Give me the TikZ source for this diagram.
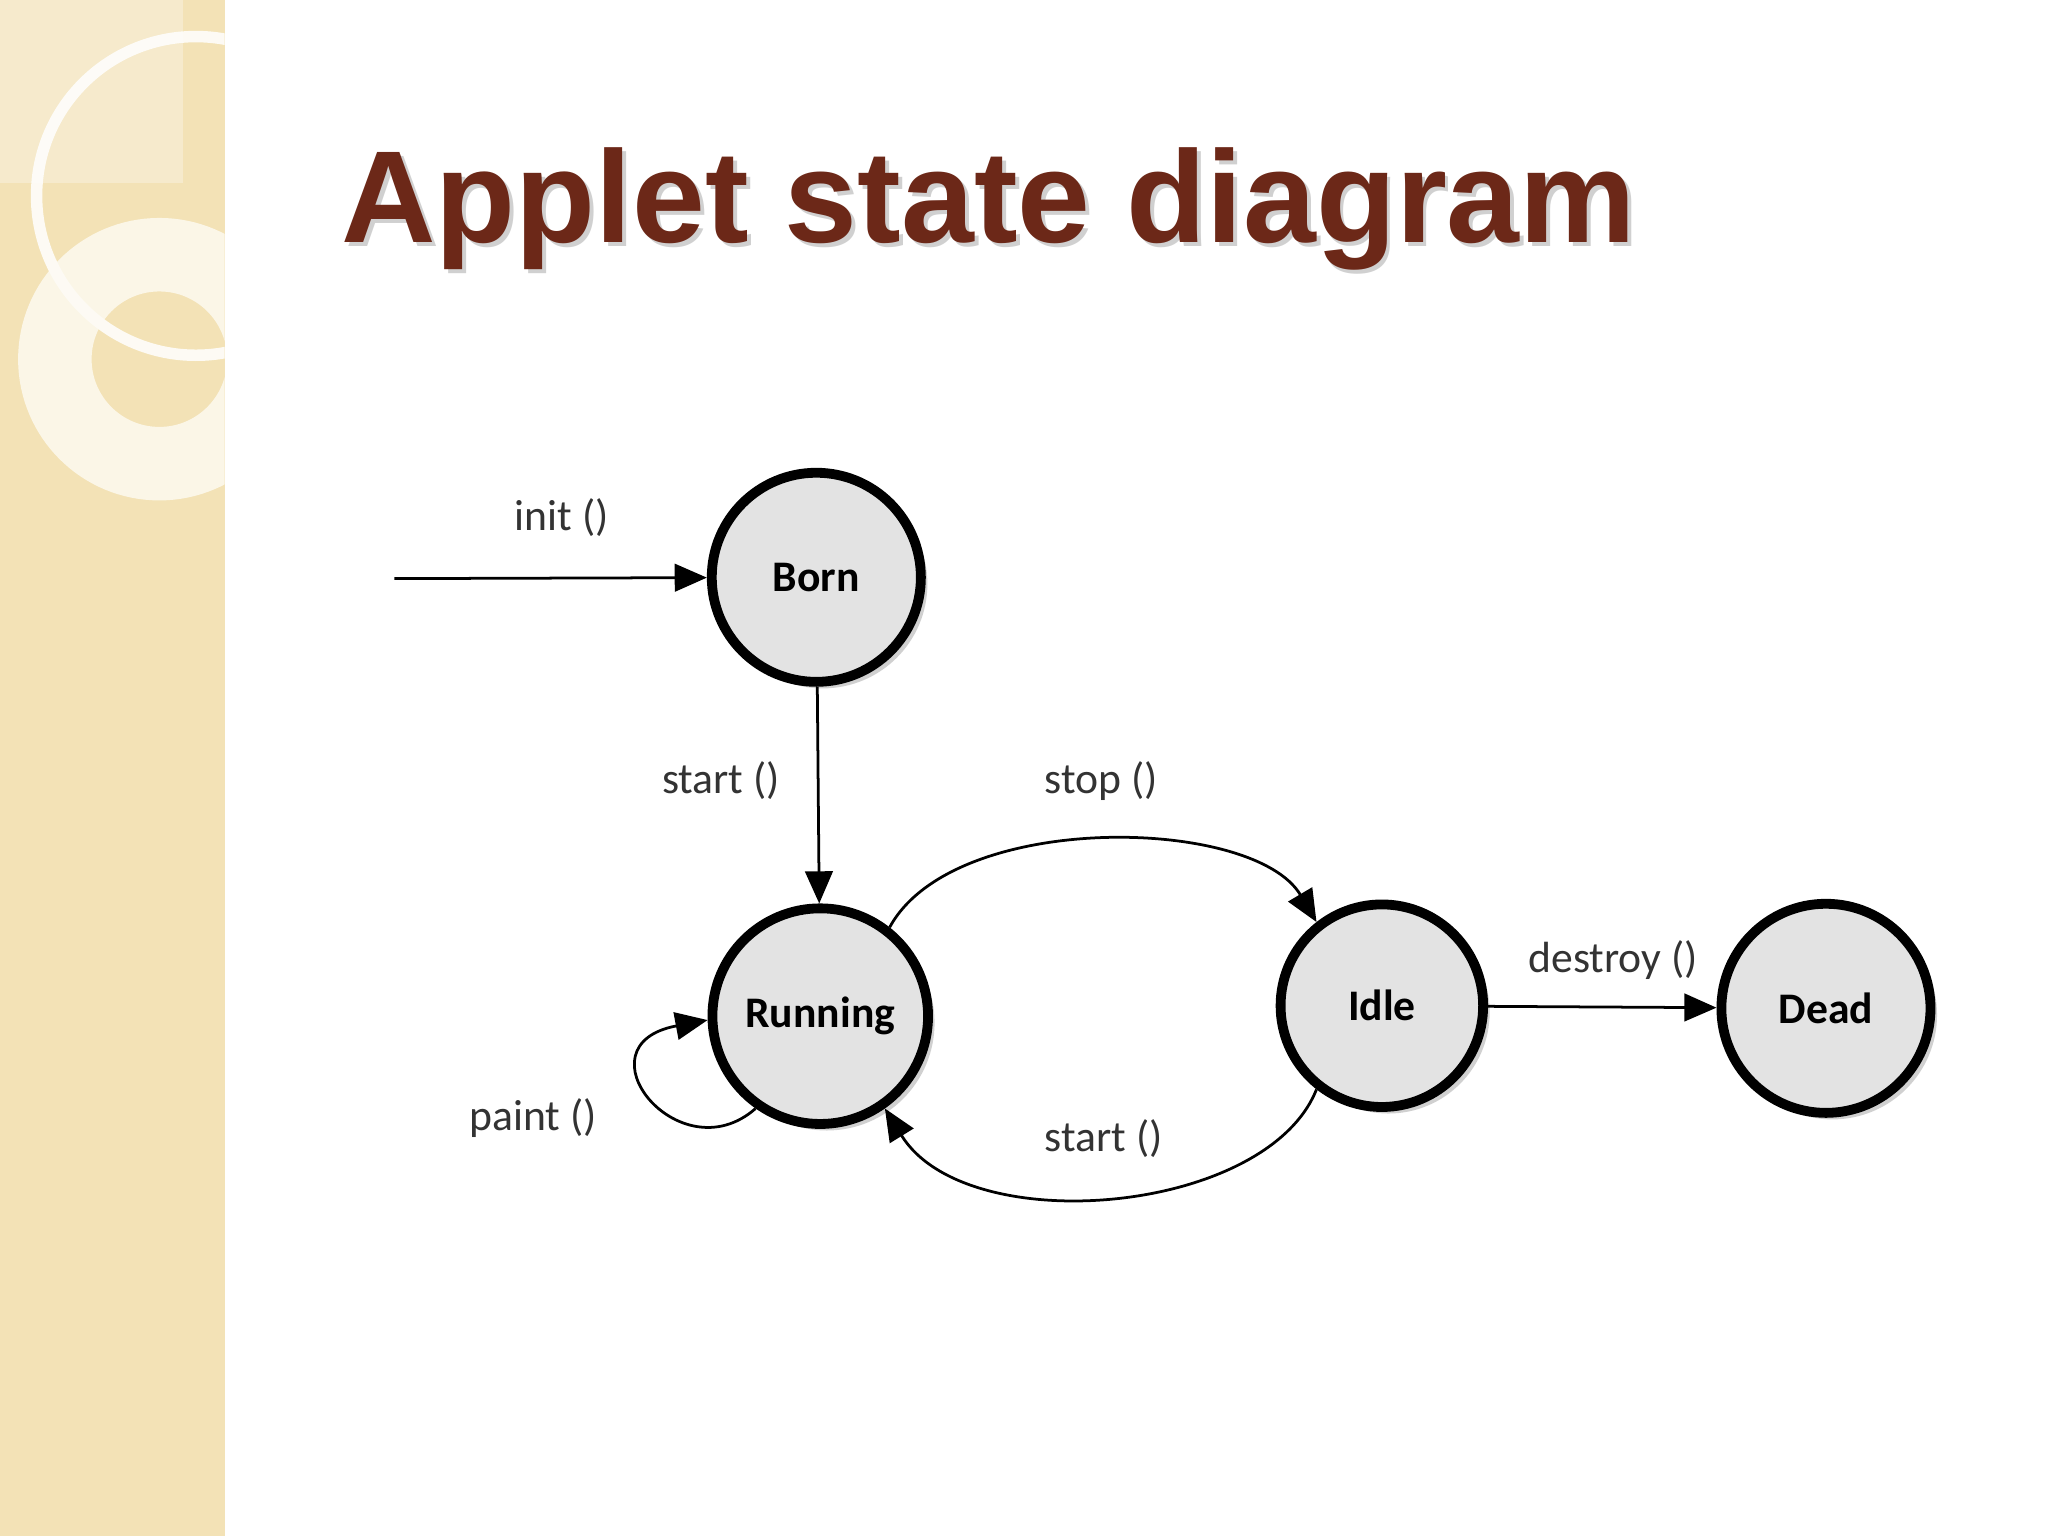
\documentclass[tikz,border=0pt]{standalone}
\usepackage{fontspec}
\setmainfont{Carlito}
\newfontfamily\titlefont{Liberation Sans}
\usetikzlibrary{arrows.meta,shadows}
\definecolor{strip}{RGB}{243,226,182}
\begin{document}
\begin{tikzpicture}[x=0.01cm,y=-0.01cm,
  state/.style={circle,draw=black,line width=0.075cm,fill=gray!22,minimum size=1.6cm,font=\fontsize{9.5}{11}\selectfont\bfseries,
    drop shadow={shadow xshift=0.05cm,shadow yshift=-0.05cm,fill=gray!60,opacity=0.6}},
  conn/.style={line width=0.6pt,-{Triangle[length=7pt,width=6pt]}},
  lbl/.style={font=\fontsize{9.5}{11}\selectfont,text=black!80}]
\useasboundingbox (0,0) rectangle (1568,1176);
\fill[white] (0,0) rectangle (1568,1176);
\fill[strip] (0,0) rectangle (172,1176);
\fill[white,opacity=0.3] (0,0) rectangle (140,140);
\begin{scope}
\clip (0,0) rectangle (172,1176);
\draw[white,line width=2.5pt,opacity=0.85] (150,150) circle (122);
\draw[white!85!strip,line width=16pt,opacity=0.8] (122,275) circle (80);
\end{scope}
\node[anchor=base west,font=\titlefont\fontsize{28.5}{34}\selectfont\bfseries,text=black!30,opacity=0.6] at (252,189) {Applet state diagram};
\node[anchor=base west,font=\titlefont\fontsize{28.5}{34}\selectfont\bfseries,text={rgb,255:red,108;green,40;blue,24}] (title) at (249,186) {Applet state diagram};

\node[state] (born) at (625,442) {Born};
\node[state,minimum size=1.65cm] (run) at (628,778) {Running};
\node[state,minimum size=1.55cm] (idle) at (1058,770) {Idle};
\node[state] (dead) at (1398,772) {Dead};
\coordinate (src) at (302,443);

\draw[conn] (src) -- (born);
\node[lbl] (l0) at (430,396) {init ()};
\draw[conn] (born) -- (run);
\node[lbl] (l4) at (552,598) {start ()};
\draw[conn] (run.52) .. controls (730,620) and (960,625) .. (idle.128);
\node[lbl] (l1) at (843,598) {stop ()};
\draw[conn] (idle.232) .. controls (970,930) and (740,950) .. (run.305);
\node[lbl] (l2) at (845,872) {start ()};
\draw[conn] (idle) -- (dead);
\node[lbl] (l5) at (1235,735) {destroy ()};
\draw[conn] (run.235) .. controls (520,900) and (440,800) .. (run.182);
\node[lbl] (l3) at (408,856) {paint ()};
\end{tikzpicture}
\end{document}
